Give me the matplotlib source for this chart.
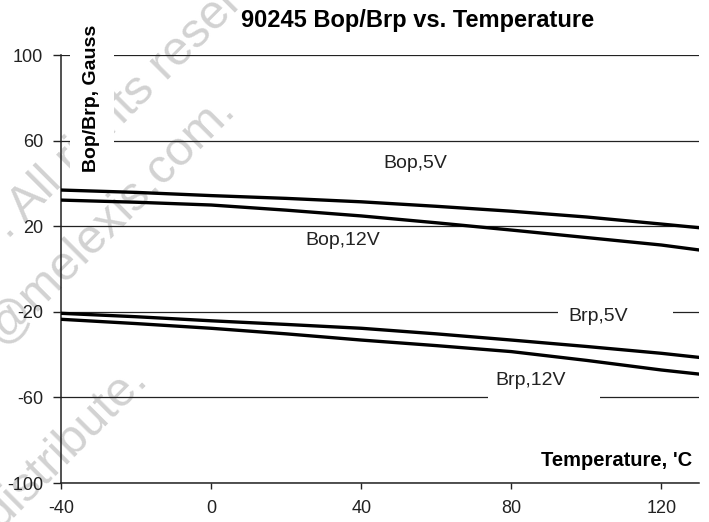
import matplotlib
matplotlib.use('Agg')
import matplotlib.pyplot as plt
from matplotlib.patches import Rectangle

plt.rcParams['font.family'] = ['Liberation Sans', 'DejaVu Sans']
plt.rcParams['axes.unicode_minus'] = False

# ---- data ----
temperature = [-40, -20, 0, 20, 40, 60, 80, 100, 120, 130]
bop_5v = [36.9, 35.8, 34.3, 33.0, 31.4, 29.3, 27.0, 24.3, 21.0, 19.3]
bop_12v = [32.2, 31.2, 29.9, 27.5, 24.8, 21.6, 18.2, 14.7, 11.2, 8.9]
brp_5v = [-20.7, -22.3, -24.2, -25.9, -27.7, -30.3, -33.2, -36.2, -39.4, -41.3]
brp_12v = [-23.5, -25.5, -27.7, -30.3, -33.2, -35.8, -38.6, -42.7, -47.2, -49.1]
series_names = ["Bop,5V", "Bop,12V", "Brp,5V", "Brp,12V"]
x_ticks = [-40, 0, 40, 80, 120]
y_ticks = [-100, -60, -20, 20, 60, 100]
title = "90245 Bop/Brp vs. Temperature"
x_label = "Temperature, 'C"
y_label = "Bop/Brp, Gauss"
watermark = [". All rights reserved.", "@melexis.com.", "distribute."]

W, H = 709, 522
fig = plt.figure(figsize=(W / 100, H / 100), dpi=100)


def px(x, y):
    return (x / W, 1 - y / H)


# watermark (behind everything)
wm_pos = [(8, 240), (0, 346), (0, 530)]
for txt, (wx, wy) in zip(watermark, wm_pos):
    fig.text(*px(wx, wy), txt, rotation=45, rotation_mode='anchor',
             ha='left', va='baseline', fontsize=35, color='#d2d2d2', zorder=-5)

ax = fig.add_axes([61 / W, 1 - 483 / H, (699 - 61) / W, (483 - 55) / H])
ax.set_facecolor('none')
ax.set_xlim(-40, 130)
ax.set_ylim(-100, 100)
ax.set_xticks(x_ticks)
ax.set_yticks(y_ticks)
ax.set_axisbelow(True)
ax.yaxis.grid(True, color='#222222', lw=0.9)
ax.xaxis.grid(False)
for s in ['top', 'right']:
    ax.spines[s].set_visible(False)
for s in ['left', 'bottom']:
    ax.spines[s].set_linewidth(1.1)
    ax.spines[s].set_color('#222222')
ax.tick_params(axis='y', direction='out', length=6, width=1, pad=7,
               labelsize=13, colors='#222222')
ax.tick_params(axis='x', direction='out', length=4.5, width=1, pad=8,
               labelsize=13, colors='#222222')

# white boxes behind data labels (interrupting gridlines)
ax.add_patch(Rectangle((92.5, -27), 30.7, 10, facecolor='white',
                       edgecolor='none', zorder=1))
ax.add_patch(Rectangle((73.9, -62.5), 29.8, 16.5, facecolor='white',
                       edgecolor='none', zorder=1))

for ys in [bop_5v, bop_12v, brp_5v, brp_12v]:
    ax.plot(temperature, ys, color='black', lw=2.4, zorder=3,
            solid_joinstyle='miter')

label_pos = [(45.9, 49.5), (25.1, 13.1), (95.2, -22.0), (75.7, -51.9)]
for name, (lx, ly) in zip(series_names, label_pos):
    ax.text(lx, ly, name, ha='left', va='center', fontsize=14,
            color='#222222', zorder=4)

fig.text(*px(418, 20), title, ha='center', va='center', fontsize=17,
         fontweight='bold', color='black')
fig.text(*px(692, 460), x_label, ha='right', va='center', fontsize=14.5,
         fontweight='bold', color='black')
fig.text(*px(92, 98), y_label, ha='center', va='center', rotation=90,
         fontsize=14, fontweight='bold', color='black', zorder=5,
         bbox=dict(boxstyle='square,pad=0.7', fc='white', ec='none'))

fig.savefig('out.png', dpi=100)
